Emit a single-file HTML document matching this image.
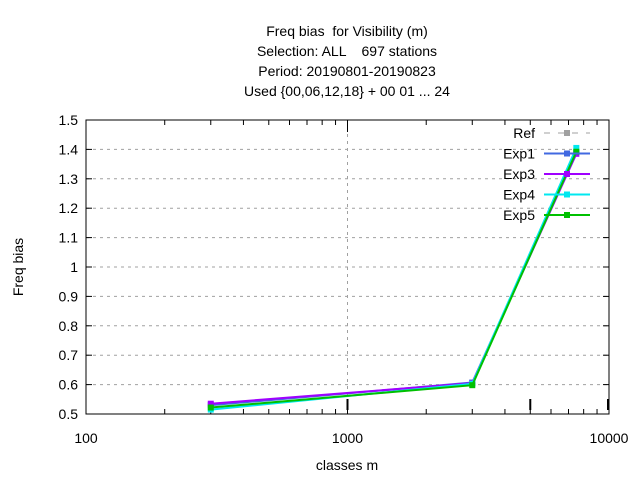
<!DOCTYPE html>
<html><head><meta charset="utf-8"><style>
body{margin:0;background:#fff}
svg{display:block;font-family:"Liberation Sans",sans-serif;font-size:14px}
svg text{white-space:pre}
</style></head><body>
<svg id="c" width="640" height="480" xmlns="http://www.w3.org/2000/svg">
<g text-anchor="middle" fill="#000">
<text x="347" y="36" xml:space="preserve">Freq bias  for Visibility (m)</text>
<text x="347" y="56" xml:space="preserve">Selection: ALL    697 stations</text>
<text x="347" y="76">Period: 20190801-20190823</text>
<text x="347" y="96">Used {00,06,12,18} + 00 01 ... 24</text>
</g>
<text x="23" y="267" transform="rotate(-90 23 267)" text-anchor="middle">Freq bias</text>
<text x="347" y="470" text-anchor="middle">classes m</text>
<g id="grid"></g>
<g id="axes"></g>
<g id="series"></g>
<g id="legend"></g>
</svg>
<script>
const xCats=[300,3000,7500];
const exp1=[0.530,0.607,1.390];
const exp3=[0.535,0.605,1.385];
const exp4=[0.515,0.603,1.405];
const exp5=[0.522,0.598,1.392];
const yTicks=[0.5,0.6,0.7,0.8,0.9,1,1.1,1.2,1.3,1.4,1.5];
const yTickLabels=["0.5","0.6","0.7","0.8","0.9","1","1.1","1.2","1.3","1.4","1.5"];
const xTicks=[100,1000,10000];
const xTickLabels=["100","1000","10000"];
const L=86,R=609,T=120,B=414;
const X=v=>L+(Math.log10(v)-2)/2*(R-L);
const Y=v=>B-(v-0.5)/1.0*(B-T);
const NS="http://www.w3.org/2000/svg";
function mk(p,t,a){const e=document.createElementNS(NS,t);for(const k in a)e.setAttribute(k,a[k]);p.appendChild(e);return e;}
const grid=document.getElementById('grid'),axes=document.getElementById('axes');
mk(axes,'rect',{x:L,y:T,width:R-L,height:B-T,fill:'none',stroke:'#000','stroke-width':1});
yTicks.forEach((v,i)=>{
 const y=Y(v);
 if(i>0&&i<yTicks.length-1){const g=mk(grid,'line',{x1:L,x2:R,y1:y,y2:y,stroke:'#a0a0a0','stroke-dasharray':'3,4'});
 
 }
 mk(axes,'line',{x1:L,x2:L+6,y1:y,y2:y,stroke:'#000'});
 mk(axes,'line',{x1:R,x2:R-6,y1:y,y2:y,stroke:'#000'});
 const t=mk(axes,'text',{x:L-8,y:y+5,'text-anchor':'end'});t.textContent=yTickLabels[i];
 
 
});
xTicks.forEach((v,i)=>{
 const x=X(v);
 if(i==1){const g=mk(grid,'line',{x1:x,x2:x,y1:T,y2:B,stroke:'#a0a0a0','stroke-dasharray':'3,4'});
 
 }
 mk(axes,'line',{x1:x,x2:x,y1:B,y2:B-12,stroke:'#000'});
 mk(axes,'line',{x1:x,x2:x,y1:T,y2:T+12,stroke:'#000'});
 const t=mk(axes,'text',{x:x,y:B+29,'text-anchor':'middle'});t.textContent=xTickLabels[i];
 
 
 if(i<2)for(let m=2;m<10;m++){const xm=X(v*m);
  mk(axes,'line',{x1:xm,x2:xm,y1:B,y2:B-5,stroke:'#000'});
  mk(axes,'line',{x1:xm,x2:xm,y1:T,y2:T+5,stroke:'#000'});}
});
mk(axes,'line',{x1:X(1000),x2:X(1000),y1:B-15,y2:B-4,stroke:'#000','stroke-width':2});
mk(axes,'line',{x1:X(5000),x2:X(5000),y1:B-15,y2:B-4,stroke:'#000','stroke-width':2});
mk(axes,'line',{x1:X(10000)-1,x2:X(10000)-1,y1:B-15,y2:B-4,stroke:'#000','stroke-width':2});
const ser=[["exp1",exp1,"#4169e1"],["exp3",exp3,"#a000ff"],["exp4",exp4,"#00e8f0"],["exp5",exp5,"#00c000"]];
const sg=document.getElementById('series');
ser.forEach(([n,d,c])=>{
 const p=mk(sg,'polyline',{points:xCats.map((v,i)=>X(v)+','+Y(d[i])).join(' '),fill:'none',stroke:c,'stroke-width':2});
 
 
 xCats.forEach((v,i)=>{const m=mk(sg,'rect',{x:X(v)-3,y:Y(d[i])-3,width:6,height:6,fill:c});
 
 });
});
const lg=document.getElementById('legend');
const lab=[["Ref","#a0a0a0",true],["Exp1","#4169e1"],["Exp3","#a000ff"],["Exp4","#00e8f0"],["Exp5","#00c000"]];
lab.forEach(([t,c,d],i)=>{
 const y=133+i*20.5;
 const g=mk(lg,'g',{});
 
 
 const tx=mk(g,'text',{x:535,y:y+5,'text-anchor':'end'});tx.textContent=t;
 mk(g,'line',{x1:544,x2:590,y1:y,y2:y,stroke:c,'stroke-width':d?1:2,'stroke-dasharray':d?'6,8':'none'});
 mk(g,'rect',{x:564,y:y-3,width:6,height:6,fill:c});
});
</script>
</body></html>
